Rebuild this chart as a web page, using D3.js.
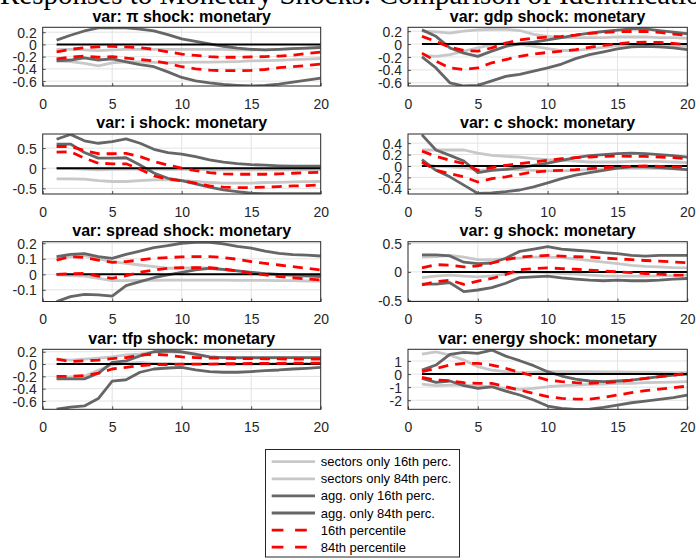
<!DOCTYPE html>
<html>
<head>
<meta charset="utf-8">
<script src="https://cdn.jsdelivr.net/npm/d3@7"></script>
<style>
  html, body { margin: 0; padding: 0; background: #fff; }
  svg { display: block; }
</style>
</head>
<body>
<svg id="fig" width="696" height="559"></svg>
<script>
// Impulse-response horizons
const horizons = d3.range(1, 21);
const xTicks = [0, 5, 10, 15, 20];

// Posterior bands per variable: sectors-only, aggregates-only and full model (16th / 84th percentiles)
const piBands = {
  sec16: [-0.27,-0.28,-0.31,-0.35,-0.30,-0.285,-0.285,-0.295,-0.30,-0.295,-0.29,-0.29,-0.285,-0.28,-0.27,-0.265,-0.26,-0.25,-0.24,-0.23],
  sec84: [-0.08,-0.08,-0.09,-0.10,-0.09,-0.08,-0.08,-0.08,-0.08,-0.08,-0.08,-0.08,-0.08,-0.09,-0.09,-0.09,-0.08,-0.07,-0.06,-0.05],
  agg16: [-0.27,-0.255,-0.22,-0.255,-0.235,-0.285,-0.33,-0.365,-0.45,-0.54,-0.595,-0.63,-0.655,-0.67,-0.68,-0.67,-0.65,-0.615,-0.585,-0.55],
  agg84: [0.07,0.15,0.22,0.27,0.27,0.27,0.25,0.22,0.16,0.09,0.05,0.01,-0.03,-0.06,-0.08,-0.09,-0.08,-0.07,-0.06,-0.05],
  p16:   [-0.235,-0.21,-0.19,-0.21,-0.20,-0.225,-0.245,-0.27,-0.31,-0.365,-0.40,-0.42,-0.43,-0.43,-0.425,-0.41,-0.38,-0.365,-0.345,-0.32],
  p84:   [-0.12,-0.08,-0.055,-0.04,-0.03,-0.04,-0.055,-0.08,-0.12,-0.16,-0.18,-0.20,-0.21,-0.21,-0.205,-0.20,-0.19,-0.175,-0.15,-0.125]
};
const gdpBands = {
  sec16: [-0.175,-0.19,-0.165,-0.11,-0.06,-0.01,0.015,0,-0.035,-0.07,-0.10,-0.10,-0.075,-0.05,-0.025,-0.01,-0.01,-0.02,-0.03,-0.035],
  sec84: [0.20,0.19,0.17,0.20,0.22,0.23,0.23,0.21,0.15,0.12,0.10,0.10,0.10,0.10,0.11,0.11,0.11,0.10,0.10,0.09],
  agg16: [-0.20,-0.37,-0.60,-0.65,-0.64,-0.57,-0.50,-0.47,-0.42,-0.37,-0.31,-0.225,-0.165,-0.12,-0.075,-0.045,-0.035,-0.045,-0.06,-0.085],
  agg84: [0.22,0.12,-0.06,-0.14,-0.19,-0.11,-0.035,0.005,0.03,0.065,0.10,0.14,0.17,0.195,0.215,0.235,0.235,0.21,0.185,0.16],
  p16:   [-0.14,-0.265,-0.37,-0.395,-0.37,-0.29,-0.24,-0.19,-0.155,-0.13,-0.11,-0.085,-0.05,-0.02,0.005,0.025,0.03,0.025,0.01,-0.01],
  p84:   [0.12,0.04,-0.05,-0.10,-0.11,-0.06,0.015,0.065,0.09,0.11,0.12,0.14,0.165,0.18,0.19,0.195,0.195,0.18,0.155,0.135]
};
const iBands = {
  sec16: [-0.265,-0.265,-0.27,-0.31,-0.33,-0.33,-0.31,-0.29,-0.29,-0.305,-0.33,-0.355,-0.37,-0.37,-0.37,-0.355,-0.35,-0.34,-0.335,-0.33],
  sec84: [-0.01,-0.01,-0.02,-0.04,-0.03,-0.02,-0.02,-0.02,-0.03,-0.03,-0.03,-0.04,-0.04,-0.04,-0.04,-0.04,-0.04,-0.04,-0.04,-0.04],
  agg16: [0.60,0.60,0.39,0.25,0.25,0.26,0.08,-0.12,-0.25,-0.31,-0.39,-0.47,-0.54,-0.58,-0.62,-0.63,-0.63,-0.63,-0.63,-0.63],
  agg84: [0.72,0.84,0.68,0.62,0.66,0.73,0.62,0.47,0.39,0.35,0.29,0.21,0.15,0.115,0.09,0.075,0.06,0.05,0.05,0.05],
  p16:   [0.40,0.41,0.25,0.125,0.11,0.11,-0.025,-0.19,-0.27,-0.31,-0.37,-0.44,-0.47,-0.48,-0.48,-0.47,-0.455,-0.44,-0.43,-0.41],
  p84:   [0.54,0.54,0.44,0.36,0.36,0.37,0.29,0.165,0.08,0,-0.06,-0.11,-0.14,-0.15,-0.15,-0.15,-0.14,-0.125,-0.11,-0.10]
};
const cBands = {
  sec16: [0.04,-0.006,-0.017,-0.03,-0.075,-0.064,-0.064,-0.064,-0.075,-0.087,-0.087,-0.075,-0.064,-0.052,-0.046,-0.04,-0.04,-0.046,-0.052,-0.064],
  sec84: [0.28,0.28,0.28,0.28,0.226,0.185,0.168,0.157,0.128,0.11,0.10,0.087,0.07,0.07,0.07,0.08,0.087,0.08,0.07,0.058],
  agg16: [0.11,-0.075,-0.19,-0.335,-0.48,-0.47,-0.45,-0.42,-0.365,-0.295,-0.22,-0.16,-0.116,-0.075,-0.035,-0.017,-0.017,-0.03,-0.046,-0.064],
  agg84: [0.545,0.28,0.185,0.087,-0.116,-0.075,-0.058,-0.03,0.012,0.052,0.10,0.145,0.18,0.20,0.215,0.225,0.215,0.20,0.18,0.157],
  p16:   [0.07,-0.075,-0.133,-0.19,-0.28,-0.22,-0.19,-0.145,-0.104,-0.087,-0.075,-0.064,-0.046,-0.03,-0.017,-0.006,0,-0.006,-0.017,-0.017],
  p84:   [0.26,0.17,0.10,0.04,-0.075,-0.03,0.012,0.04,0.07,0.10,0.128,0.145,0.157,0.168,0.174,0.168,0.168,0.157,0.145,0.128]
};
const spreadBands = {
  sec16: [-0.004,-0.009,-0.011,-0.026,-0.041,-0.041,-0.039,-0.039,-0.037,-0.037,-0.037,-0.037,-0.037,-0.039,-0.039,-0.039,-0.041,-0.041,-0.043,-0.043],
  sec84: [0.108,0.114,0.12,0.099,0.082,0.071,0.06,0.049,0.039,0.039,0.043,0.039,0.028,0.022,0.013,0.004,-0.004,-0.011,-0.015,-0.015],
  agg16: [-0.176,-0.144,-0.129,-0.133,-0.14,-0.073,-0.047,-0.022,-0.004,0.013,0.028,0.039,0.032,0.022,0.013,0.004,0,-0.004,-0.009,-0.015],
  agg84: [0.114,0.129,0.133,0.114,0.103,0.129,0.15,0.172,0.185,0.20,0.206,0.206,0.196,0.18,0.168,0.15,0.135,0.127,0.123,0.118],
  p16:   [0,0.004,0.006,-0.011,-0.026,-0.009,0.013,0.028,0.039,0.043,0.043,0.043,0.034,0.022,0.006,-0.004,-0.015,-0.022,-0.03,-0.037],
  p84:   [0.092,0.114,0.108,0.092,0.077,0.082,0.092,0.103,0.108,0.112,0.114,0.114,0.108,0.097,0.082,0.071,0.06,0.049,0.039,0.028]
};
const gBands = {
  sec16: [-0.10,-0.075,-0.058,-0.075,-0.087,-0.07,-0.04,-0.012,0,-0.012,-0.029,-0.04,-0.058,-0.07,-0.075,-0.075,-0.075,-0.07,-0.064,-0.058],
  sec84: [0.26,0.27,0.29,0.26,0.214,0.214,0.23,0.243,0.26,0.26,0.25,0.23,0.20,0.173,0.145,0.116,0.098,0.087,0.075,0.07],
  agg16: [-0.214,-0.214,-0.19,-0.347,-0.318,-0.277,-0.20,-0.10,-0.087,-0.075,-0.104,-0.127,-0.145,-0.156,-0.145,-0.156,-0.156,-0.145,-0.127,-0.116],
  agg84: [0.30,0.30,0.28,0.17,0.145,0.156,0.24,0.36,0.40,0.445,0.40,0.38,0.364,0.34,0.32,0.29,0.277,0.29,0.29,0.29],
  p16:   [-0.23,-0.173,-0.145,-0.22,-0.162,-0.116,-0.046,0.04,0.058,0.07,0.058,0.046,0.029,0.017,0,-0.012,-0.029,-0.04,-0.058,-0.058],
  p84:   [0.07,0.127,0.116,0.087,0.104,0.156,0.214,0.26,0.277,0.29,0.277,0.266,0.26,0.243,0.23,0.214,0.20,0.19,0.173,0.162]
};
const tfpBands = {
  sec16: [-0.22,-0.21,-0.20,-0.10,-0.01,0.01,0.027,0.01,0.01,0,0,0,0,0,0,0.005,0.005,0.01,0.01,0.01],
  sec84: [0.08,0.064,0.08,0.096,0.117,0.149,0.16,0.20,0.20,0.19,0.15,0.117,0.106,0.096,0.096,0.096,0.10,0.10,0.10,0.106],
  agg16: [-0.734,-0.70,-0.68,-0.56,-0.277,-0.255,-0.133,-0.08,-0.064,-0.053,-0.096,-0.122,-0.133,-0.133,-0.122,-0.106,-0.096,-0.08,-0.069,-0.053],
  agg84: [-0.24,-0.24,-0.24,-0.15,0.027,0.053,0.133,0.20,0.21,0.20,0.16,0.117,0.106,0.106,0.106,0.106,0.106,0.106,0.106,0.106],
  p16:   [-0.20,-0.20,-0.186,-0.149,-0.08,-0.053,-0.027,-0.01,-0.01,0,0,0,0.005,0.005,0.01,0.01,0.01,0.016,0.016,0.016],
  p84:   [0.08,0.043,0.053,0.064,0.09,0.106,0.144,0.16,0.144,0.117,0.106,0.096,0.096,0.09,0.09,0.085,0.085,0.08,0.08,0.08]
};
const energyBands = {
  sec16: [-0.76,-0.89,-0.84,-0.84,-0.92,-0.97,-1.09,-1.17,-1.09,-0.97,-0.89,-0.84,-0.79,-0.76,-0.71,-0.71,-0.66,-0.64,-0.61,-0.58],
  sec84: [1.53,1.70,1.45,1.07,0.56,0.30,0.18,0.10,0.15,0.18,0.18,0.18,0.18,0.17,0.16,0.15,0.14,0.12,0.11,0.10],
  agg16: [-0.33,-0.64,-0.53,-0.89,-1.09,-0.97,-1.30,-1.60,-1.98,-2.44,-2.62,-2.70,-2.67,-2.54,-2.37,-2.19,-2.06,-1.93,-1.80,-1.60],
  agg84: [0.30,0.69,1.50,1.65,1.58,1.83,1.37,1.02,0.64,0.18,-0.15,-0.38,-0.53,-0.58,-0.53,-0.46,-0.33,-0.20,-0.08,0],
  p16:   [-0.25,-0.46,-0.51,-0.66,-0.71,-0.71,-0.97,-1.22,-1.48,-1.73,-1.86,-1.91,-1.91,-1.78,-1.60,-1.42,-1.27,-1.15,-1.04,-0.92],
  p84:   [0.18,0.43,0.69,0.81,0.81,0.69,0.43,0.13,-0.15,-0.46,-0.58,-0.66,-0.71,-0.66,-0.58,-0.46,-0.33,-0.20,-0.08,0.05]
};

// Panel titles, y ranges and y ticks
const panelTitles = [
  "var: \u03c0 shock: monetary", "var: gdp shock: monetary",
  "var: i shock: monetary", "var: c shock: monetary",
  "var: spread shock: monetary", "var: g shock: monetary",
  "var: tfp shock: monetary", "var: energy shock: monetary"
];
const panelBands = [piBands, gdpBands, iBands, cBands, spreadBands, gBands, tfpBands, energyBands];
const yRanges = [
  [-0.68, 0.28], [-0.65, 0.26],
  [-0.64, 0.85], [-0.49, 0.56],
  [-0.175, 0.21], [-0.52, 0.53],
  [-0.735, 0.24], [-2.69, 1.89]
];
const yTickSets = [
  [-0.6, -0.4, -0.2, 0, 0.2], [-0.6, -0.4, -0.2, 0, 0.2],
  [-0.5, 0, 0.5], [-0.4, -0.2, 0, 0.2, 0.4],
  [-0.1, 0, 0.1, 0.2], [-0.5, 0, 0.5],
  [-0.6, -0.4, -0.2, 0, 0.2], [-2, -1, 0, 1]
];

// Series drawing order and legend labels
const seriesKeys = ["sec16", "sec84", "agg16", "agg84", "p16", "p84"];
const seriesLabels = [
  "sectors only 16th perc.", "sectors only 84th perc.",
  "agg. only 16th perc.", "agg. only 84th perc.",
  "16th percentile", "84th percentile"
];
const figTitle = "Responses to Monetary Shocks: Comparison of Identification Schemes";

const styles = {
  sec16: { color: "#c8c8c8", width: 2.8, dash: null },
  sec84: { color: "#c8c8c8", width: 2.8, dash: null },
  agg16: { color: "#666666", width: 2.8, dash: null },
  agg84: { color: "#666666", width: 2.8, dash: null },
  p16:   { color: "#ff0000", width: 2.8, dash: "10,7" },
  p84:   { color: "#ff0000", width: 2.8, dash: "10,7" }
};

const svg = d3.select("#fig");
const axisColor = "#262626";
const gridColor = "#e3e3e3";
const sansFont = "'Liberation Sans', Arial, Helvetica, sans-serif";

// Figure title (large serif heading running off the top edge)
svg.append("text")
  .attr("x", 0).attr("y", 4)
  .attr("font-family", "'Liberation Serif', 'Times New Roman', serif")
  .attr("font-size", 29)
  .attr("fill", "#000")
  .text(figTitle);

// Subplot geometry
const colX = [[42.7, 320.7], [408, 687.3]];
const rowY = [[27.3, 86], [134, 194], [241.7, 301.5], [349.3, 409.3]];

panelBands.forEach((bands, k) => {
  const col = k % 2, row = Math.floor(k / 2);
  const [x0, x1] = colX[col];
  const [y0, y1] = rowY[row];
  const x = d3.scaleLinear().domain([0, 20]).range([x0, x1]);
  const y = d3.scaleLinear().domain(yRanges[k]).range([y1, y0]);

  const g = svg.append("g");
  const clipId = "clip" + k;
  g.append("clipPath").attr("id", clipId)
    .append("rect").attr("x", x0).attr("y", y0).attr("width", x1 - x0).attr("height", y1 - y0);

  // grid
  const grid = g.append("g");
  grid.selectAll("line.vx").data(xTicks.filter(t => t > 0 && t < 20)).join("line")
    .attr("x1", d => x(d)).attr("x2", d => x(d)).attr("y1", y0).attr("y2", y1)
    .attr("stroke", gridColor).attr("stroke-width", 1);
  grid.selectAll("line.hy").data(yTickSets[k]).join("line")
    .attr("x1", x0).attr("x2", x1).attr("y1", d => y(d)).attr("y2", d => y(d))
    .attr("stroke", gridColor).attr("stroke-width", 1);

  // axes with ticks pointing inward
  const xAxis = d3.axisBottom(x).tickValues(xTicks).tickSize(-3).tickPadding(8).tickFormat(d3.format("d"));
  const yAxis = d3.axisLeft(y).tickValues(yTickSets[k]).tickSize(-3).tickPadding(6).tickFormat(d => String(d));
  const gx = g.append("g").attr("transform", `translate(0,${y1})`).call(xAxis);
  const gy = g.append("g").attr("transform", `translate(${x0},0)`).call(yAxis);
  [gx, gy].forEach(ax => {
    ax.select(".domain").remove();
    ax.selectAll(".tick line").attr("stroke", axisColor).attr("stroke-width", 0.8);
    ax.selectAll(".tick text")
      .attr("fill", axisColor)
      .attr("font-family", sansFont)
      .attr("font-size", 14);
  });
  gx.selectAll(".tick text").attr("dy", "1.05em");
  gy.selectAll(".tick text").attr("dy", "0.36em");

  // lines
  const plot = g.append("g").attr("clip-path", `url(#${clipId})`);
  const line = d3.line().x((d, i) => x(horizons[i])).y(d => y(d));
  const drawSeries = key => {
    const s = styles[key];
    plot.append("path")
      .datum(bands[key])
      .attr("d", line)
      .attr("fill", "none")
      .attr("stroke", s.color)
      .attr("stroke-width", s.width)
      .attr("stroke-linejoin", "round")
      .attr("stroke-dasharray", s.dash);
  };
  seriesKeys.slice(0, 4).forEach(drawSeries);
  // zero reference line
  plot.append("line")
    .attr("x1", x(horizons[0])).attr("x2", x(horizons[horizons.length - 1]))
    .attr("y1", y(0)).attr("y2", y(0))
    .attr("stroke", "#000").attr("stroke-width", 2);
  seriesKeys.slice(4).forEach(drawSeries);

  // box
  g.append("rect")
    .attr("x", x0).attr("y", y0).attr("width", x1 - x0).attr("height", y1 - y0)
    .attr("fill", "none").attr("stroke", axisColor).attr("stroke-width", 1);

  // panel title
  g.append("text")
    .attr("x", (x0 + x1) / 2).attr("y", y0 - 5.6)
    .attr("text-anchor", "middle")
    .attr("font-family", sansFont)
    .attr("font-weight", "bold")
    .attr("font-size", 16)
    .attr("fill", "#000")
    .text(panelTitles[k]);
});

// Legend
const legend = svg.append("g");
legend.append("rect")
  .attr("x", 265.5).attr("y", 449.5).attr("width", 194).attr("height", 107.5)
  .attr("fill", "#fff").attr("stroke", axisColor).attr("stroke-width", 1);
seriesKeys.forEach((key, i) => {
  const yy = 461.7 + i * 17.1;
  const s = styles[key];
  legend.append("line")
    .attr("x1", 271.7).attr("x2", 315).attr("y1", yy).attr("y2", yy)
    .attr("stroke", s.color).attr("stroke-width", s.width)
    .attr("stroke-dasharray", s.dash ? "11.7,11.7" : null);
  legend.append("text")
    .attr("x", 320.7).attr("y", yy).attr("dy", "0.35em")
    .attr("font-family", sansFont).attr("font-size", 13)
    .attr("fill", "#000")
    .text(seriesLabels[i]);
});
</script>
</body>
</html>
